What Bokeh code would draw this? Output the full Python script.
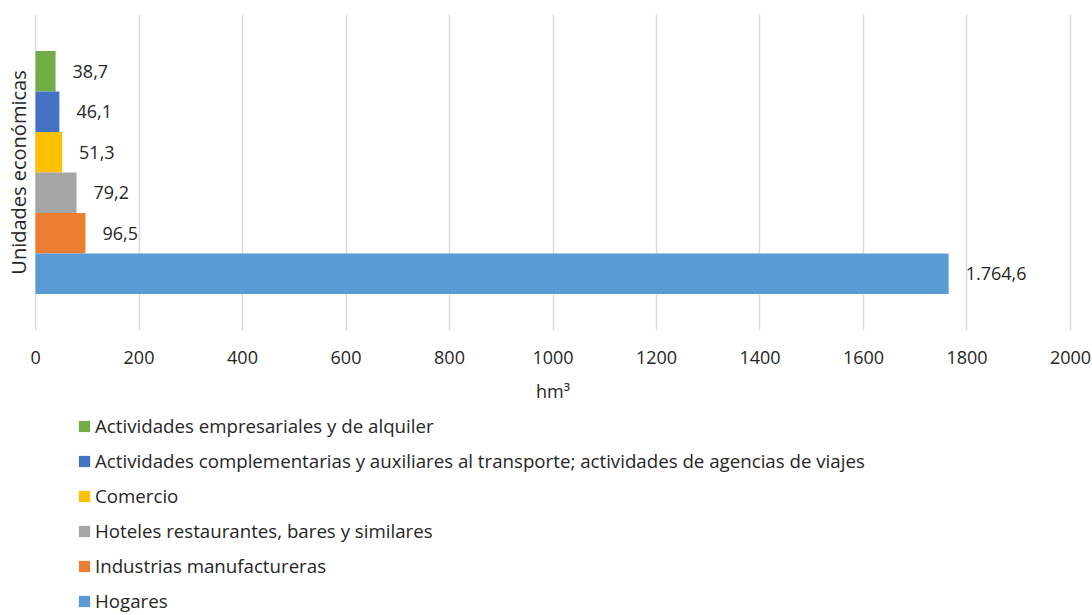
from bokeh.plotting import figure
from bokeh.layouts import column
from bokeh.models import ColumnDataSource, Range1d, FixedTicker, Legend, LegendItem
from bokeh.core.properties import value
from bokeh.embed import file_html
from bokeh.resources import INLINE

categories = [
    "Actividades empresariales y de alquiler",
    "Actividades complementarias y auxiliares al transporte; actividades de agencias de viajes",
    "Comercio",
    "Hoteles restaurantes, bares y similares",
    "Industrias manufactureras",
    "Hogares",
]
values = [38.7, 46.1, 51.3, 79.2, 96.5, 1764.6]
colors = ["#70AD47", "#4472C4", "#FFC000", "#A5A5A5", "#ED7D31", "#5B9BD5"]
x_ticks = [0, 200, 400, 600, 800, 1000, 1200, 1400, 1600, 1800, 2000]

FONT = "Open Sans"
TXT = "#262626"
FS = "18px"


def fmt_es(v):
    s = f"{v:,.1f}"
    return s.replace(",", "X").replace(".", ",").replace("X", ".")


n = len(categories)
bar_h = 0.1282
ys = [((n - 1) / 2 - j) * bar_h for j in range(n)]

src = ColumnDataSource(dict(
    cat=categories, val=values, color=colors, y=ys,
    lab=[fmt_es(v) for v in values],
))

p = figure(width=1092, height=410, output_backend="svg", toolbar_location=None,
           x_range=Range1d(-2, 2002), y_range=Range1d(-0.5, 0.5),
           min_border_left=34, min_border_right=21, min_border_top=14,
           min_border_bottom=80)
p.outline_line_color = None

r = p.hbar(y="y", right="val", left=0, height=bar_h, color="color",
           line_color=None, source=src)
p.text(x="val", y="y", text="lab", source=src, x_offset=17,
       text_align="left", text_baseline="middle",
       text_font=value(FONT), text_font_size=FS, text_color=TXT)

p.xaxis.ticker = FixedTicker(ticks=x_ticks)
p.xaxis.axis_line_color = None
p.xaxis.major_tick_line_color = None
p.xaxis.minor_tick_line_color = None
p.xaxis.major_tick_out = 0
p.xaxis.major_label_standoff = 20
p.xaxis.major_label_text_font = FONT
p.xaxis.major_label_text_font_size = FS
p.xaxis.major_label_text_color = TXT
p.xaxis.axis_label = "hm³"
p.xaxis.axis_label_text_font = FONT
p.xaxis.axis_label_text_font_size = FS
p.xaxis.axis_label_text_font_style = "normal"
p.xaxis.axis_label_text_color = TXT
p.xaxis.axis_label_standoff = 12

p.yaxis.ticker = FixedTicker(ticks=[])
p.yaxis.axis_line_color = None
p.yaxis.major_tick_line_color = None
p.yaxis.minor_tick_line_color = None
p.yaxis.major_tick_out = 0
p.yaxis.major_label_standoff = 0
p.yaxis.axis_label = "Unidades económicas"
p.yaxis.axis_label_text_font = FONT
p.yaxis.axis_label_text_font_size = "20px"
p.yaxis.axis_label_text_font_style = "normal"
p.yaxis.axis_label_text_color = TXT
p.yaxis.axis_label_standoff = 3

p.xgrid.grid_line_color = "#D9D9D9"
p.xgrid.grid_line_width = 1.5
p.ygrid.grid_line_color = None

# legend panel below the chart
p2 = figure(width=1092, height=205, output_backend="svg", toolbar_location=None,
            x_range=Range1d(0, 1), y_range=Range1d(10, 11),
            min_border=0)
p2.outline_line_color = None
p2.axis.visible = False
p2.grid.visible = False
r2 = p2.hbar(y="y", right="val", left=0, height=bar_h, color="color",
             line_color=None, source=src)

legend = Legend(items=[LegendItem(label=c, renderers=[r2], index=i)
                       for i, c in enumerate(categories)],
                location=(43, 2), orientation="vertical",
                padding=0, margin=0, spacing=10, label_height=24,
                glyph_width=14, glyph_height=14, label_standoff=4,
                label_text_font=FONT, label_text_font_size="18.7px",
                label_text_color=TXT, border_line_alpha=0,
                background_fill_alpha=0)
p2.add_layout(legend, "center")

layout = column(p, p2, spacing=0)
open("out.html", "w").write(file_html(layout, INLINE))
